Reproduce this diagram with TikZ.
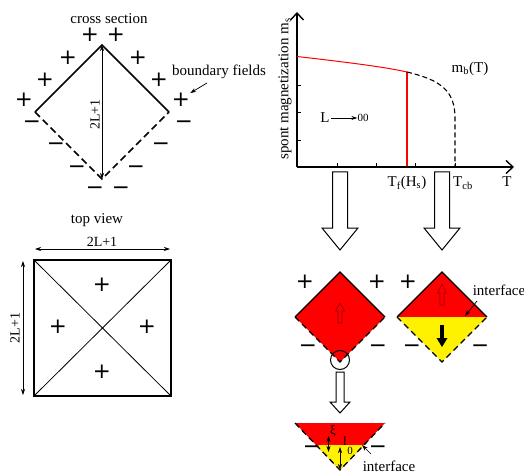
\documentclass[tikz,border=0pt]{standalone}
\usepackage{fontspec}
\setmainfont{Liberation Serif}
\newfontfamily\symfont{DejaVu Sans}
\usetikzlibrary{arrows.meta}
\tikzset{
  pm/.style={font=\symfont\fontsize{21.5}{21.5}\selectfont, inner sep=0pt},
  lbl/.style={font=\fontsize{15}{15}\selectfont, inner sep=0pt},
  small/.style={font=\fontsize{14}{14}\selectfont, inner sep=0pt},
  edge/.style={line width=1.5pt},
  dedge/.style={line width=1.5pt, dash pattern=on 7pt off 4pt},
  thinarrow/.style={line width=0.7pt, {Stealth[length=6pt,width=4pt]}-{Stealth[length=6pt,width=4pt]}},
  onearrow/.style={line width=0.7pt, -{Stealth[length=6pt,width=4pt]}},
  axis/.style={line width=1.6pt, -{Straight Barb[length=7pt,width=13pt,line width=1.4pt]}},
  blockarrow/.style={draw, line width=1pt, fill=white},
}
\begin{document}
\begin{tikzpicture}[x=1pt,y=-1pt]
\useasboundingbox (0,0) rectangle (524,473);
\fill[white] (0,0) rectangle (524,473);

% ---------------- cross section ----------------
\node[lbl] (cstitle) at (109,19) {cross section};
\coordinate (cT) at (102,45);
\coordinate (cL) at (35,112);
\coordinate (cR) at (169,112);
\coordinate (cB) at (102,179);
\draw[edge] (cL) -- (cT) -- (cR);
\draw[dedge] (cL) -- (cB) -- (cR);
\draw[thinarrow] (cT) -- (cB) node[pos=0.52, rotate=90, anchor=south, small, yshift=2pt] (cslen) {2L+1};
\node[pm] (cp1) at (90,35) {+};
\node[pm] (cp2) at (116,35) {+};
\node[pm] (cp3) at (68,58) {+};
\node[pm] (cp4) at (45,80) {+};
\node[pm] (cp5) at (24,100) {+};
\node[pm] (cp6) at (138,58) {+};
\node[pm] (cp7) at (159,80) {+};
\node[pm] (cp8) at (181,100) {+};
\node[pm] (cm1) at (32,125) {−};
\node[pm] (cm2) at (56,147) {−};
\node[pm] (cm3) at (77,170) {−};
\node[pm] (cm4) at (95,191) {−};
\node[pm] (cm5) at (121,191) {−};
\node[pm] (cm6) at (136,170) {−};
\node[pm] (cm7) at (161,147) {−};
\node[pm] (cm8) at (184,125) {−};
\node[lbl, anchor=west] (bf) at (172,72) {boundary fields};
\draw[onearrow] (207,83) -- (cp8.north east);

% ---------------- top view ----------------
\node[lbl] (tvtitle) at (97,220) {top view};
\coordinate (sA) at (34,260);
\coordinate (sB) at (171,260);
\coordinate (sC) at (171,396);
\coordinate (sD) at (34,396);
\draw[line width=0.8pt] (sA) -- (sC) (sB) -- (sD);
\draw[edge] (sA) -- (sB) -- (sC) -- (sD) -- cycle;
\coordinate (hL) at (35,249);
\coordinate (hR) at (170,249);
\draw[thinarrow] (hL) -- (hR);
\node[small] (tvw) at (102,242) {2L+1};
\coordinate (vT) at (23,261);
\coordinate (vB) at (23,395);
\draw[thinarrow] (vT) -- (vB);
\node[small, rotate=90] (tvh) at (15,328) {2L+1};
\node[pm] (tp1) at (102,285) {+};
\node[pm] (tp2) at (58,327) {+};
\node[pm] (tp3) at (147,327) {+};
\node[pm] (tp4) at (102,372) {+};

% ---------------- graph ----------------
\coordinate (O) at (297,167);
\coordinate (Ytop) at (297,12);
\coordinate (Xend) at (514,167);
\draw[axis] (O) -- (Ytop);
\draw[axis] (O) -- (Xend);
\foreach \yy in {85,112,140} \draw[line width=0.6pt] (297,\yy) -- (301,\yy);
\foreach \xx in {337,376,415,455} \draw[line width=0.6pt] (\xx,167) -- (\xx,163);
\node[lbl, rotate=90] (ylab) at (285,89) {spont magnetization m\textsubscript{s}};
\coordinate (r0) at (297,56.5);
\coordinate (rf) at (407,72);
\coordinate (rfb) at (407,166);
\draw[red, line width=1pt] (r0) .. controls (345,62) and (385,67) .. (rf);
\draw[red, line width=1.2pt] (rf) -- (rfb);
\coordinate (cb) at (455,167);
\draw[line width=1.1pt, dash pattern=on 5pt off 3pt] (rf) .. controls (440,80) and (455,90) .. (455,118) -- (cb);
\node[lbl] (mb) at (470,69) {m\textsubscript{b}(T)};
\node[lbl] (Lsym) at (325,118) {L};
\node[font=\fontsize{11}{11}\selectfont, inner sep=0pt] (inf) at (363,118) {00};
\draw[onearrow] (Lsym.east) ++(1,0) -- (inf.west);
\node[lbl] (tf) at (407,183) {T\textsubscript{f}(H\textsubscript{s})};
\node[lbl] (tcb) at (463,183) {T\textsubscript{cb}};
\node[lbl] (tT) at (507,182) {T};

% block arrows from graph
\draw[blockarrow] (332.5,172) -- (347.5,172) -- (347.5,228) -- (358,228) -- (340,250) -- (322,228) -- (332.5,228) -- cycle;
\draw[blockarrow] (434.5,172) -- (449.5,172) -- (449.5,228) -- (460,228) -- (442,250) -- (424,228) -- (434.5,228) -- cycle;

% ---------------- left coloured diamond ----------------
\coordinate (aT) at (340,272);
\coordinate (aL) at (295,317);
\coordinate (aR) at (385,317);
\coordinate (aB) at (340,362);
\fill[red] (aT) -- (aR) -- (aB) -- (aL) -- cycle;
\draw[line width=1.3pt] (aL) -- (aT) -- (aR);
\draw[line width=1.3pt, dash pattern=on 6pt off 4pt] (aL) -- (aB) -- (aR);
\draw[red!55!black, line width=0.6pt] (338,323) -- (342,323) -- (342,311) -- (344.5,311) -- (340,303) -- (335.5,311) -- (338,311) -- cycle;
\node[pm] (ap1) at (305,282) {+};
\node[pm] (ap2) at (377,282) {+};
\node[pm] (am1) at (308,349) {−};
\node[pm] (am2) at (378,349) {−};
\node[draw, circle, line width=1pt, minimum size=19pt, inner sep=0pt] (zoomc) at (340,360) {};
\draw[blockarrow] (336,372) -- (344,372) -- (344,402) -- (350,402) -- (340,413) -- (330,402) -- (336,402) -- cycle;

% ---------------- right coloured diamond ----------------
\coordinate (bT) at (442,272);
\coordinate (bL) at (397,317);
\coordinate (bR) at (487,317);
\coordinate (bB) at (442,362);
\fill[red] (bL) -- (bT) -- (bR) -- cycle;
\fill[yellow] (bL) -- (bB) -- (bR) -- cycle;
\draw[line width=1.3pt] (bL) -- (bT) -- (bR);
\draw[line width=1.3pt, dash pattern=on 6pt off 4pt] (bL) -- (bB) -- (bR);
\draw[red!55!black, line width=0.6pt] (440,305) -- (444,305) -- (444,293) -- (446.5,293) -- (442,284) -- (437.5,293) -- (440,293) -- cycle;
\fill[black] (440.2,325) -- (443.8,325) -- (443.8,338) -- (447.5,338) -- (442,347) -- (436.5,338) -- (440.2,338) -- cycle;
\node[pm] (bp1) at (408,282) {+};
\node[pm] (bm1) at (412,349) {−};
\node[pm] (bm2) at (480,349) {−};
\node[lbl] (intf1) at (499,290) {interface};
\coordinate (i1) at (465,316);
\draw[onearrow] (477,301) -- (i1);

% ---------------- bottom magnified triangle ----------------
\coordinate (tL) at (295,423);
\coordinate (tR) at (385,423);
\coordinate (tB) at (340,470);
\coordinate (yL) at (316,445);
\coordinate (yR) at (364,445);
\fill[red] (tL) -- (tR) -- (tB) -- cycle;
\fill[yellow] (yL) -- (yR) -- (tB) -- cycle;
\draw[line width=1.3pt, dash pattern=on 6pt off 4pt] (tL) -- (tB) -- (tR);
\node[pm] (tm1) at (312,450) {−};
\node[pm] (tm2) at (378,450) {−};
\draw[thinarrow, line width=0.6pt] (328.5,436) -- (328.5,452);
\node[font=\fontsize{13}{13}\selectfont, inner sep=0pt] (xi) at (333,431) {ξ};
\draw[thinarrow, line width=0.6pt] (340,447) -- (tB);
\node[font=\fontsize{13}{13}\selectfont, inner sep=0pt] (ell) at (345,441) {l};
\node[font=\fontsize{11}{11}\selectfont, inner sep=0pt] (zero) at (350,451) {0};
\node[lbl] (intf2) at (389,465.8) {interface};
\coordinate (i2) at (362,445);
\draw[onearrow] (371,454) -- (i2);
\end{tikzpicture}
\end{document}
